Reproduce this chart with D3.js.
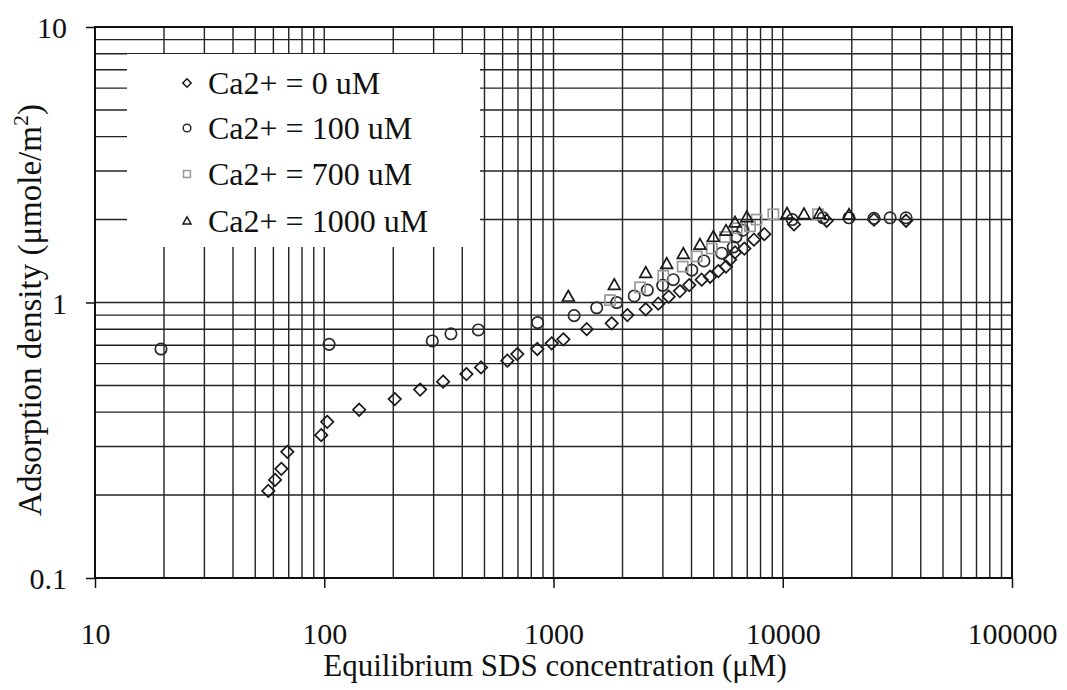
<!DOCTYPE html>
<html>
<head>
<meta charset="utf-8">
<script src="https://cdn.jsdelivr.net/npm/d3@7"></script>
<style>
  html, body { margin: 0; padding: 0; background: #fff; }
  svg { display: block; }
  text { font-family: "Liberation Serif", "Times New Roman", serif; fill: #111; }
</style>
</head>
<body>
<svg id="chart" width="1067" height="690"></svg>
<script>
// ---- data ----
const xTickValues = [10, 100, 1000, 10000, 100000];
const xTickLabels = ["10", "100", "1000", "10000", "100000"];
const yTickValues = [0.1, 1, 10];
const yTickLabels = ["0.1", "1", "10"];

const seriesNames = ["Ca2+ = 0 uM", "Ca2+ = 100 uM", "Ca2+ = 700 uM", "Ca2+ = 1000 uM"];

const ca0X = [57, 61, 65, 69, 97, 103, 142, 203, 262, 330, 417, 483, 629, 695, 850, 982, 1104, 1396, 1794, 2100, 2525, 2866, 3180, 3560, 3910, 4430, 4820, 5235, 5656, 5890, 6190, 6800, 7490, 8310, 11200, 15550, 25000, 34500];
const ca0Y = [0.207, 0.227, 0.249, 0.287, 0.33, 0.369, 0.408, 0.446, 0.483, 0.516, 0.55, 0.581, 0.615, 0.65, 0.678, 0.711, 0.735, 0.80, 0.84, 0.90, 0.945, 0.99, 1.05, 1.10, 1.157, 1.21, 1.24, 1.30, 1.35, 1.43, 1.52, 1.57, 1.69, 1.77, 1.92, 1.98, 2.0, 1.98];

const ca100X = [19.4, 105, 296, 357, 470, 853, 1230, 1543, 1887, 2250, 2566, 2995, 3330, 4010, 4530, 5416, 6085, 6250, 6700, 11000, 15000, 19450, 25000, 29400, 34500];
const ca100Y = [0.678, 0.705, 0.725, 0.77, 0.795, 0.845, 0.896, 0.957, 1.0, 1.056, 1.11, 1.154, 1.21, 1.31, 1.415, 1.51, 1.59, 1.73, 1.83, 2.0, 2.03, 2.03, 2.02, 2.03, 2.03];

const ca700X = [1764, 2384, 3013, 3660, 4214, 4900, 5600, 6300, 7200, 7690, 9100, 14260];
const ca700Y = [1.02, 1.135, 1.25, 1.35, 1.47, 1.57, 1.73, 1.86, 1.89, 2.0, 2.09, 2.09];

const ca1000X = [1160, 1842, 2525, 3117, 3683, 4355, 4978, 5656, 6190, 6970, 10440, 12380, 14470, 19450];
const ca1000Y = [1.05, 1.157, 1.28, 1.38, 1.50, 1.62, 1.73, 1.82, 1.95, 2.04, 2.1, 2.09, 2.1, 2.08];

// ---- layout ----
const plotL = 95, plotR = 1012, plotT = 27, plotB = 578;
const svg = d3.select("#chart");

const x = d3.scaleLog().domain([10, 100000]).range([plotL, plotR]);
const y = d3.scaleLog().domain([0.1, 10]).range([plotB, plotT]);

const gridColor = "#222";

const xGrid = [];
for (let d = 10; d < 100000; d *= 10) for (let k = 1; k <= 9; k++) xGrid.push(d * k);
xGrid.push(100000);
const yGrid = [];
for (let d = 0.1; d < 10 - 1e-9; d *= 10) for (let k = 1; k <= 9; k++) yGrid.push(+(d * k).toPrecision(3));
yGrid.push(10);

const g = svg.append("g");

g.append("g").selectAll("line").data(xGrid).join("line")
  .attr("x1", d => x(d)).attr("x2", d => x(d))
  .attr("y1", plotT).attr("y2", plotB)
  .attr("stroke", gridColor).attr("stroke-width", 1.4);

g.append("g").selectAll("line").data(yGrid).join("line")
  .attr("x1", plotL).attr("x2", plotR)
  .attr("y1", d => y(d)).attr("y2", d => y(d))
  .attr("stroke", gridColor).attr("stroke-width", 1.4);

g.append("rect").attr("x", plotL).attr("y", plotT)
  .attr("width", plotR - plotL).attr("height", plotB - plotT)
  .attr("fill", "none").attr("stroke", "#111").attr("stroke-width", 2);

const xAxis = d3.axisBottom(x).tickValues(xTickValues).tickSize(10).tickFormat((d, i) => xTickLabels[i]);
const gx = svg.append("g").attr("transform", `translate(0,${plotB})`).call(xAxis);
gx.select(".domain").remove();
gx.selectAll(".tick line").attr("stroke", "#111").attr("stroke-width", 1.5);
gx.selectAll(".tick text").attr("dy", null).attr("y", 66)
  .style("font-family", "'Liberation Serif', 'Times New Roman', serif")
  .style("font-size", "30px").attr("fill", "#111");

const yAxis = d3.axisLeft(y).tickValues(yTickValues).tickSize(9).tickFormat((d, i) => yTickLabels[i]);
const gy = svg.append("g").attr("transform", `translate(${plotL},0)`).call(yAxis);
gy.select(".domain").remove();
gy.selectAll(".tick line").attr("stroke", "#111").attr("stroke-width", 1.5);
gy.selectAll(".tick text").attr("x", -28).attr("dy", "0.35em")
  .style("font-family", "'Liberation Serif', 'Times New Roman', serif")
  .style("font-size", "30px").attr("fill", "#111");

svg.append("text").attr("x", 555).attr("y", 676).attr("text-anchor", "middle")
  .style("font-size", "31px").text("Equilibrium SDS concentration (μM)");

const yt = svg.append("text")
  .attr("transform", `translate(41,310) rotate(-90)`)
  .attr("text-anchor", "middle").style("font-size", "33px");
yt.append("tspan").text("Adsorption density (μmole/m");
yt.append("tspan").attr("dy", -13).style("font-size", "22px").text("2");
yt.append("tspan").attr("dy", 13).text(")");

function drawMarker(sel, type, s) {
  if (type === "diamond") {
    sel.append("path").attr("d", `M0,${-s}L${s},0L0,${s}L${-s},0Z`);
  } else if (type === "circle") {
    sel.append("circle").attr("r", s * 0.92);
  } else if (type === "square") {
    const h = s * 0.82;
    sel.append("rect").attr("x", -h).attr("y", -h).attr("width", 2 * h).attr("height", 2 * h);
  } else if (type === "triangle") {
    sel.append("path").attr("d", `M0,${-s}L${s * 0.95},${s * 0.7}L${-s * 0.95},${s * 0.7}Z`);
  }
}

const series = [
  { xs: ca0X, ys: ca0Y, type: "diamond", color: "#1a1a1a" },
  { xs: ca100X, ys: ca100Y, type: "circle", color: "#2a2a2a" },
  { xs: ca700X, ys: ca700Y, type: "square", color: "#999" },
  { xs: ca1000X, ys: ca1000Y, type: "triangle", color: "#1a1a1a" },
];

const lg = svg.append("g");
lg.append("rect").attr("x", 127).attr("y", 54).attr("width", 353).attr("height", 193).attr("fill", "#fff");

const dataG = svg.append("g");
series.forEach(s => {
  const pts = s.xs.map((v, i) => [v, s.ys[i]]);
  dataG.append("g").selectAll("g").data(pts).join("g")
    .attr("transform", d => `translate(${x(d[0])},${y(d[1])})`)
    .each(function () { drawMarker(d3.select(this), s.type, 6.2); })
    .selectAll("*").attr("fill", "none").attr("stroke", s.color).attr("stroke-width", 1.7);
});

const rowY = [83, 128, 174, 221];
series.forEach((s, i) => {
  const m = lg.append("g").attr("transform", `translate(187,${rowY[i]})`);
  drawMarker(m, s.type, 4.2);
  m.selectAll("*").attr("fill", "none").attr("stroke", s.color).attr("stroke-width", 1.5);
  lg.append("text").attr("x", 208).attr("y", rowY[i] + 11).style("font-size", "32px").text(seriesNames[i]);
});
</script>
</body>
</html>
